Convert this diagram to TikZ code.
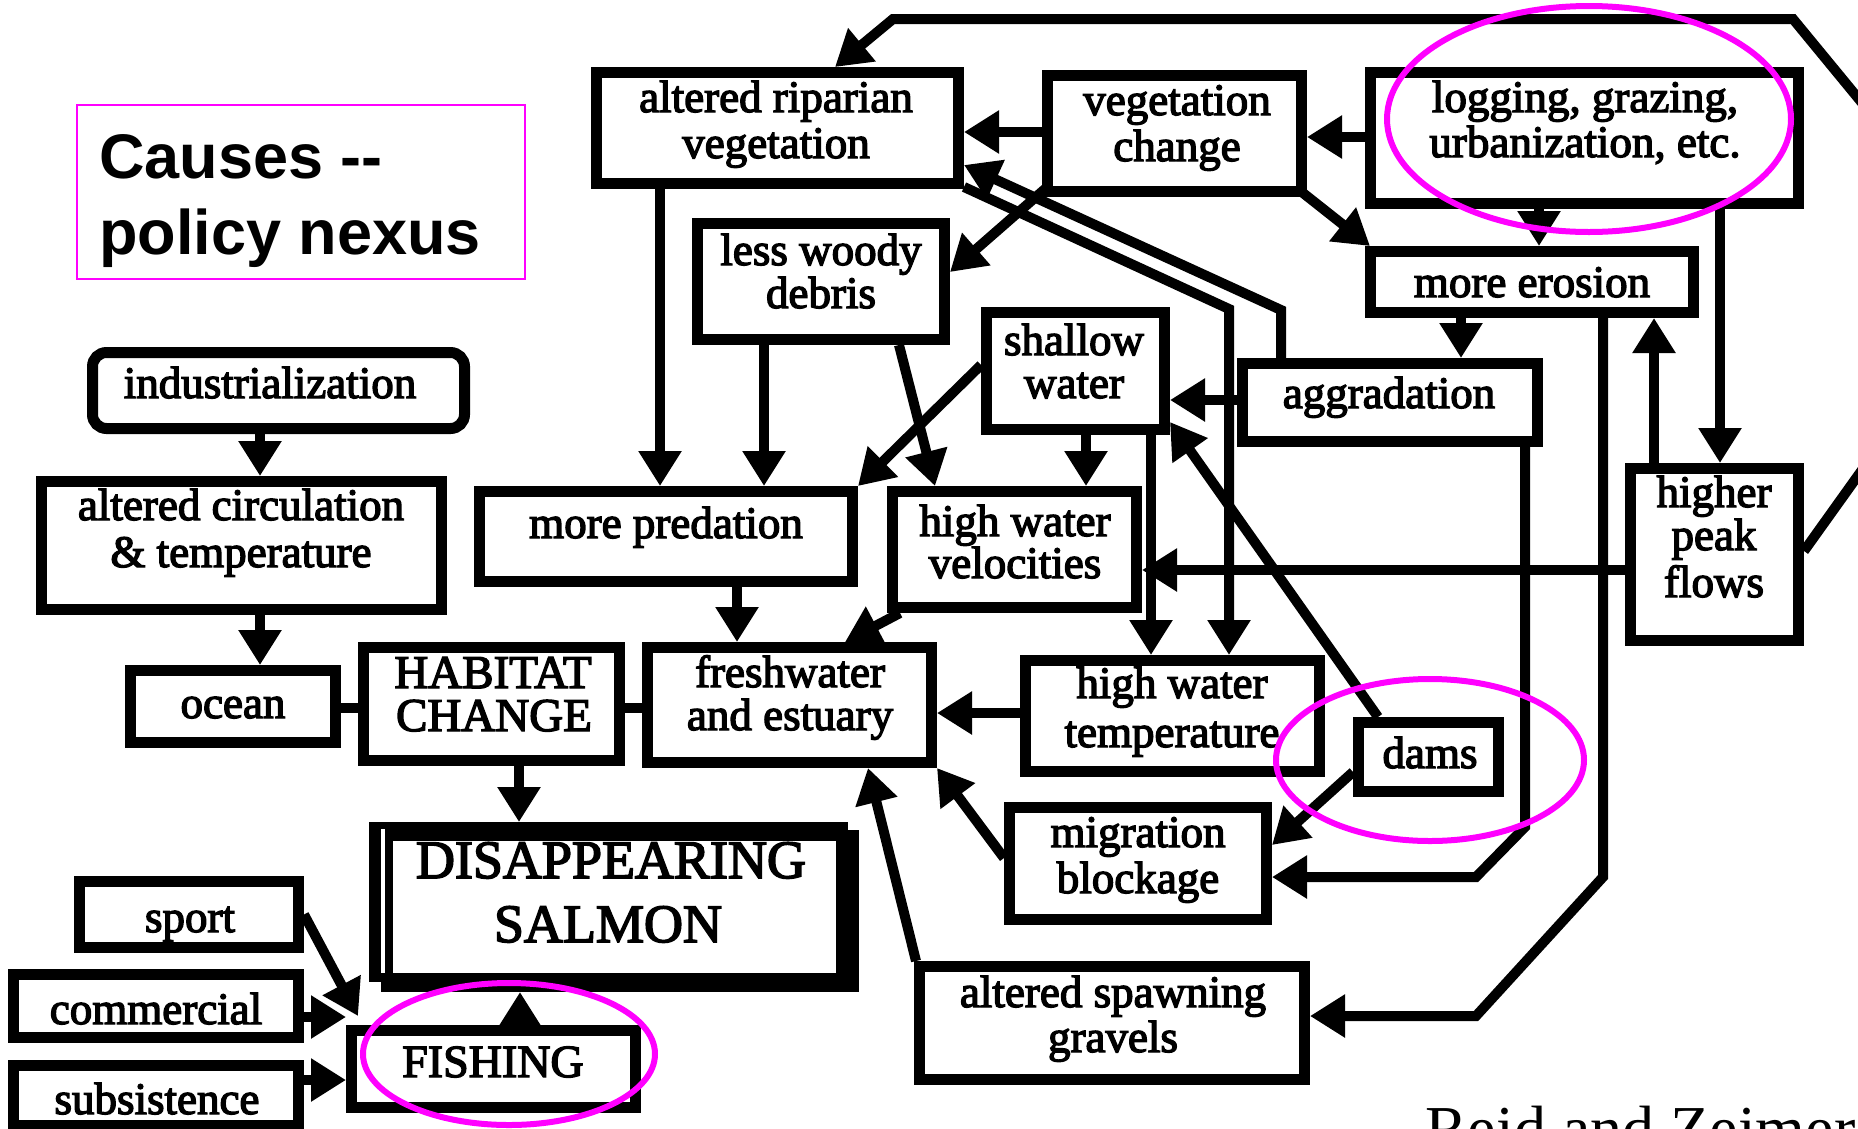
\documentclass[tikz,border=0pt]{standalone}
\usepackage{fontspec}
\newfontfamily\lblfont{Liberation Serif}[FakeBold=3]
\newfontfamily\citefont{Liberation Serif}
\newfontfamily\headfont{Liberation Sans}
\usetikzlibrary{arrows.meta,calc}
\definecolor{hot}{RGB}{255,0,255}

% box given by its outer edges: [options]{name}{x1}{y1}{x2}{y2}
\newcommand\mkbox[6][]{%
  \node[box,#1,minimum width={(#5)-(#3)-11},minimum height={(#6)-(#4)-11}]
    (#2) at ({((#3)+(#5))/2},{((#4)+(#6))/2}) {};}
% one line of label text, placed by its baseline
\newcommand\tx[4][]{\node[lbl,#1] (#2) at (#3) {#4};}

\begin{document}
\begin{tikzpicture}[x=1pt,y=-1pt,line join=miter,
  box/.style={draw=black,line width=11pt,fill=white,inner sep=0pt,rectangle},
  arr/.style={line width=10pt,-{Triangle[length=35pt,width=41pt]}},
  link/.style={line width=10pt},
  lbl/.style={font=\lblfont\fontsize{45}{45}\selectfont,inner sep=0pt,anchor=base},
  ring/.style={draw=hot,line width=6pt}]

\useasboundingbox (0,0) rectangle (1858,1128);
\clip (0,0) rectangle (1858,1128);
\fill[white] (0,0) rectangle (1858,1128);

% ---------- title box ----------
\node[draw=hot,line width=2pt,inner sep=0pt,minimum width=448pt,minimum height=174pt] (causes) at (301,192) {};
\node[font=\headfont\bfseries\fontsize{63}{63}\selectfont,inner sep=0pt,anchor=base west] (causes1) at (99,178) {Causes -{}-};
\node[font=\headfont\bfseries\fontsize{63}{63}\selectfont,inner sep=0pt,anchor=base west] (causes2) at (99,254) {policy nexus};

% ---------- boxes ----------
\mkbox[rounded corners=14pt]{indus}{87}{347}{470}{434}
\mkbox{altcirc}{36}{476}{447}{615}
\mkbox{ocean}{125}{665}{341}{748}
\mkbox{habitat}{358}{642}{625}{766}
\mkbox{fishing}{346}{1025}{641}{1113}
\mkbox{sport}{74}{876}{304}{953}
\mkbox{commercial}{8}{969}{304}{1043}
\mkbox{subsist}{8}{1060}{304}{1131}
\mkbox{riparian}{591}{67}{964}{189}
\mkbox{vegch}{1042}{70}{1307}{197}
\mkbox{logging}{1365}{67}{1804}{209}
\mkbox{erosion}{1365}{246}{1699}{318}
\mkbox{woody}{692}{218}{950}{345}
\mkbox{shallow}{981}{307}{1170}{435}
\mkbox{aggr}{1237}{358}{1543}{447}
\mkbox{pred}{474}{486}{858}{587}
\mkbox{hwv}{887}{486}{1142}{613}
\mkbox{hpf}{1625}{463}{1804}{646}
\mkbox{fresh}{642}{642}{937}{768}
\mkbox{hwt}{1020}{655}{1325}{777}
\mkbox{dams}{1353}{717}{1504}{797}
\mkbox{migr}{1004}{802}{1272}{925}
\mkbox{spawn}{914}{961}{1310}{1085}

% heavy box with drop shadow
\node[inner sep=0pt,outer sep=0pt,minimum width=490pt,minimum height=170pt] (salmon) at (614,907) {};
\fill (369,822) rectangle (848,982);
\fill (381,830) rectangle (859,992);
\fill[white] (393,841) rectangle (836,973);
\fill[white] (381,829) rectangle (385,973);

% ---------- connectors ----------
\draw[arr] (260,0 |- indus.south) -- (260,0 |- altcirc.north);
\draw[arr] (260,0 |- altcirc.south) -- (260,0 |- ocean.north);
\draw[link] (ocean.east |- 0,708) -- (habitat.west |- 0,708);
\draw[link] (habitat.east |- 0,708) -- (fresh.west |- 0,708);
\draw[arr] (519,0 |- habitat.south) -- (519,0 |- salmon.north);
\draw[arr] (520,0 |- fishing.north) -- (520,0 |- salmon.south);
\draw[arr] (sport.east) -- ($(fishing.north west)+(12,-9)$);
\draw[arr] (commercial.east |- 0,1017) -- (fishing.west |- 0,1017);
\draw[arr] (subsist.east |- 0,1080) -- (fishing.west |- 0,1080);

% loop leaving on the right and returning along the top
\coordinate (exitR) at (1872,456);
\coordinate (entryR) at (1872,115);
\draw[link] (hpf.east |- 0,551) -- (exitR);
\draw[arr] (entryR) -- (1793,19) -- (893,19) -- (835,0 |- riparian.north);

\draw[arr] (vegch.west |- 0,132) -- (riparian.east |- 0,132);
\draw[arr] (logging.west |- 0,137) -- (vegch.east |- 0,137);
\draw[arr] (1539,0 |- logging.south) -- (1539,0 |- erosion.north);
\draw[arr] ($(vegch.south east)+(-4,-4)$) -- ($(erosion.north west)+(5,0)$);
\draw[arr] (1720,0 |- logging.south) -- (1720,0 |- hpf.north);
\draw[arr] (1654,0 |- hpf.north) -- (1654,0 |- erosion.south);
\draw[arr] (1461,0 |- erosion.south) -- (1461,0 |- aggr.north);
\draw[arr] (1603,0 |- erosion.south) -- (1603,877) -- (1476,1016) -- (spawn.east |- 0,1016);
\draw[arr] (1525,0 |- aggr.south) -- (1525,827) -- (1476,877) -- (migr.east |- 0,877);
\draw[arr] (aggr.west |- 0,400) -- (shallow.east |- 0,400);
\draw[arr] (1281,0 |- aggr.north) -- (1281,310) -- (riparian.east |- 0,165);
\draw[arr] (riparian.east |- 0,187) -- (1229,309) -- (1229,0 |- hwt.north);
\draw[arr] (660,0 |- riparian.south) -- (660,0 |- pred.north);
\draw[arr] (764,0 |- woody.south) -- (764,0 |- pred.north);
\draw[arr] (899,0 |- woody.south) -- (935,0 |- hwv.north);
\draw[arr] ($(vegch.south west)+(3,-8)$) -- (woody.east |- 0,272);
\draw[arr] (shallow.west |- 0,365) -- (pred.north east);
\draw[arr] (1086,0 |- shallow.south) -- (1086,0 |- hwv.north);
\draw[arr] (1151,0 |- shallow.south) -- (1151,0 |- hwt.north);
\draw[arr] (1378,0 |- dams.north) -- (shallow.east |- 0,422);
\draw[arr] (dams.west |- 0,772) -- (migr.east |- 0,845);
\draw[arr] (hwt.west |- 0,713) -- (fresh.east |- 0,713);
\draw[arr] (900,0 |- hwv.south) -- (845,0 |- fresh.north);
\draw[arr] (737,0 |- pred.south) -- (737,0 |- fresh.north);
\draw[arr] (migr.west |- 0,858) -- (fresh.south east);
\draw[arr] (916,0 |- spawn.north) -- (868,0 |- fresh.south);
\draw[arr] (hpf.west |- 0,570) -- (hwv.east |- 0,570);

% ---------- labels ----------
\tx{indus-t}{270,398}{industrialization}
\tx{altcirc-t1}{241,520}{altered circulation}
\tx{altcirc-t2}{241,567}{\& temperature}
\tx{ocean-t}{233,718}{ocean}
\tx[font=\lblfont\fontsize{47}{47}\selectfont]{habitat-t1}{493,688}{HABITAT}
\tx[font=\lblfont\fontsize{47}{47}\selectfont]{habitat-t2}{494,731}{CHANGE}
\tx[font=\lblfont\fontsize{54}{54}\selectfont]{salmon-t1}{611,878}{DISAPPEARING}
\tx[font=\lblfont\fontsize{54}{54}\selectfont]{salmon-t2}{608,942}{SALMON}
\tx[font=\lblfont\fontsize{46}{46}\selectfont]{fishing-t}{493,1077}{FISHING}
\tx{sport-t}{190,932}{sport}
\tx{commercial-t}{156,1024}{commercial}
\tx{subsist-t}{157,1114}{subsistence}
\tx{riparian-t1}{776,112}{altered riparian}
\tx{riparian-t2}{776,158}{vegetation}
\tx{vegch-t1}{1177,115}{vegetation}
\tx{vegch-t2}{1177,161}{change}
\tx{logging-t1}{1585,112}{logging, grazing,}
\tx{logging-t2}{1585,157}{urbanization, etc.}
\tx{erosion-t}{1532,297}{more erosion}
\tx{woody-t1}{821,265}{less woody}
\tx{woody-t2}{821,308}{debris}
\tx{shallow-t1}{1074,355}{shallow}
\tx{shallow-t2}{1074,398}{water}
\tx{aggr-t}{1389,408}{aggradation}
\tx{pred-t}{666,538}{more predation}
\tx{hwv-t1}{1015,536}{high water}
\tx{hwv-t2}{1015,578}{velocities}
\tx{hpf-t1}{1714,507}{higher}
\tx{hpf-t2}{1714,550}{peak}
\tx{hpf-t3}{1714,597}{flows}
\tx{fresh-t1}{790,687}{freshwater}
\tx{fresh-t2}{790,730}{and estuary}
\tx{hwt-t1}{1172,698}{high water}
\tx{hwt-t2}{1172,747}{temperature}
\tx{dams-t}{1430,768}{dams}
\tx{migr-t1}{1138,847}{migration}
\tx{migr-t2}{1138,893}{blockage}
\tx{spawn-t1}{1113,1007}{altered spawning}
\tx{spawn-t2}{1113,1052}{gravels}

\node[font=\citefont\fontsize{64}{64}\selectfont,inner sep=0pt,anchor=base west] (cite) at (1425,1150) {Reid and Zeimer};

% ---------- highlight rings ----------
\draw[ring] (1589,119) ellipse [x radius=202pt,y radius=113pt];
\draw[ring] (1430,760) ellipse [x radius=154pt,y radius=81pt];
\draw[ring] (509,1054) ellipse [x radius=146pt,y radius=71pt];

\end{tikzpicture}
\end{document}
